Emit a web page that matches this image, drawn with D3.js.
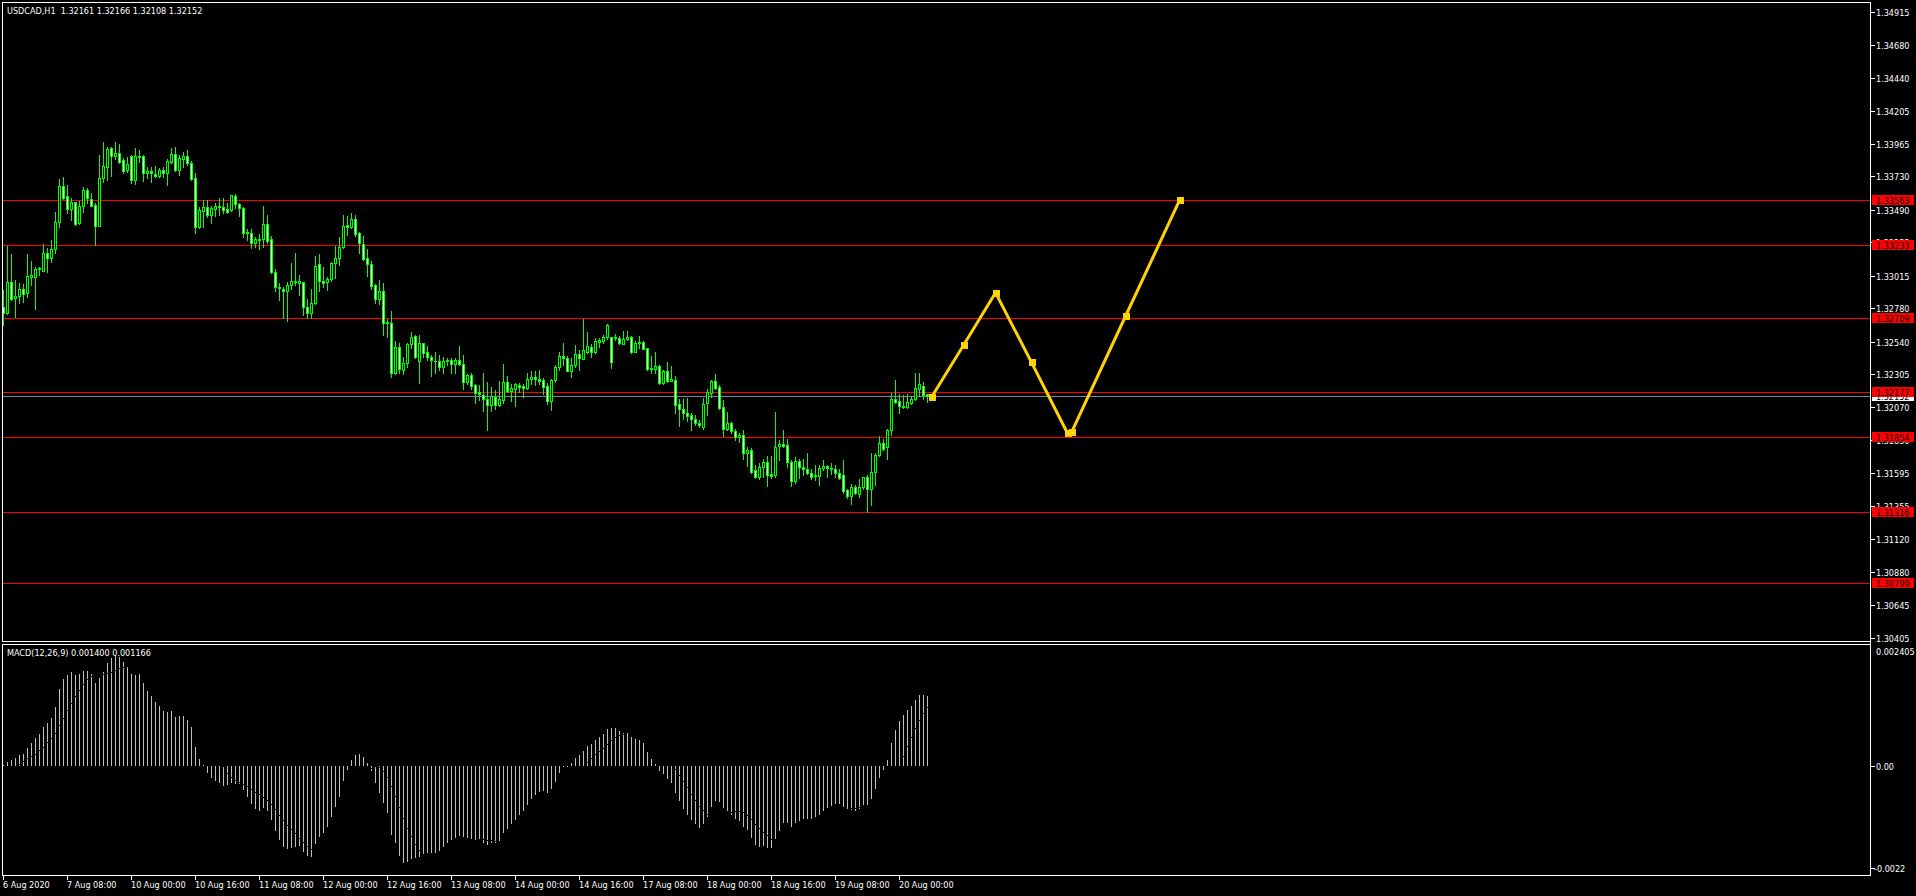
<!DOCTYPE html>
<html><head><meta charset="utf-8">
<script src="https://cdn.jsdelivr.net/npm/d3@7"></script>
<style>
html,body{margin:0;padding:0;background:#000;overflow:hidden}
svg{display:block}
text{font-family:"DejaVu Sans Condensed","DejaVu Sans",sans-serif;font-stretch:condensed;font-size:9px;fill:#fff;white-space:pre}
</style></head><body>
<svg id="c" width="1916" height="896"></svg>
<script>
// ---------- DATA ----------
const symbolLabel = "USDCAD,H1  1.32161 1.32166 1.32108 1.32152";
const macdLabel = "MACD(12,26,9) 0.001400 0.001166";
const timeLabels = ["6 Aug 2020","7 Aug 08:00","10 Aug 00:00","10 Aug 16:00","11 Aug 08:00","12 Aug 00:00","12 Aug 16:00","13 Aug 08:00","14 Aug 00:00","14 Aug 16:00","17 Aug 08:00","18 Aug 00:00","18 Aug 16:00","19 Aug 08:00","20 Aug 00:00"];
const timeLabelBars = [0,16,32,48,64,80,96,112,128,144,160,176,192,208,224];
const priceTicks = ["1.34915","1.34680","1.34440","1.34205","1.33965","1.33730","1.33490","1.33255","1.33015","1.32780","1.32540","1.32305","1.32070","1.31830","1.31595","1.31355","1.31120","1.30880","1.30645","1.30405"];
const levelPrices = [1.33563,1.33233,1.32709,1.32177,1.31854,1.31316,1.30799];
const levelLabels = ["1.33563","1.33233","1.32709","1.32177","1.31854","1.31316","1.30799"];
const bidPrice = 1.32152;
const bidLabel = "1.32152";
const macdTickLabels = ["0.002405","0.00","-0.0022"];

const opens = [1.32792,1.32749,1.32972,1.32852,1.32871,1.32917,1.32888,1.33008,1.33008,1.33061,
1.33052,1.33176,1.33145,1.33205,1.33400,1.33662,1.33590,1.33498,1.33544,1.33393,
1.33517,1.33633,1.33566,1.33525,1.33376,1.33717,1.33796,1.33933,1.33880,1.33897,
1.33849,1.33777,1.33878,1.33705,1.33878,1.33878,1.33753,1.33770,1.33748,1.33736,
1.33777,1.33753,1.33837,1.33890,1.33777,1.33858,1.33878,1.33825,1.33717,1.33369,
1.33484,1.33508,1.33453,1.33493,1.33517,1.33513,1.33493,1.33489,1.33590,1.33529,
1.33501,1.33330,1.33321,1.33249,1.33280,1.33277,1.33385,1.33277,1.33044,1.32936,
1.32919,1.32907,1.32946,1.32977,1.32965,1.32967,1.32787,1.32744,1.32816,1.33100,
1.32977,1.32972,1.32989,1.33109,1.33140,1.33220,1.33378,1.33364,1.33421,1.33321,
1.33241,1.33140,1.33097,1.32948,1.32845,1.32907,1.32682,1.32672,1.32317,1.32499,
1.32336,1.32384,1.32523,1.32581,1.32403,1.32528,1.32463,1.32427,1.32403,1.32403,
1.32360,1.32398,1.32408,1.32377,1.32408,1.32379,1.32252,1.32300,1.32225,1.32175,
1.32156,1.32127,1.32086,1.32144,1.32081,1.32120,1.32249,1.32187,1.32201,1.32228,
1.32221,1.32204,1.32269,1.32283,1.32269,1.32264,1.32221,1.32115,1.32261,1.32355,
1.32434,1.32420,1.32331,1.32370,1.32451,1.32418,1.32468,1.32504,1.32468,1.32540,
1.32547,1.32571,1.32571,1.32576,1.32564,1.32523,1.32557,1.32574,1.32468,1.32528,
1.32538,1.32492,1.32341,1.32346,1.32365,1.32240,1.32326,1.32259,1.32264,1.32088,
1.32057,1.32024,1.32012,1.31985,1.31956,1.31928,1.32100,1.32173,1.32254,1.32211,
1.32067,1.31913,1.31954,1.31899,1.31856,1.31865,1.31740,1.31760,1.31613,1.31563,
1.31635,1.31671,1.31584,1.31577,1.31791,1.31800,1.31798,1.31671,1.31538,1.31680,
1.31639,1.31620,1.31594,1.31572,1.31575,1.31627,1.31644,1.31632,1.31620,1.31591,
1.31582,1.31471,1.31430,1.31495,1.31443,1.31491,1.31563,1.31476,1.31603,1.31723,
1.31807,1.31779,1.31904,1.32124,1.32110,1.32079,1.32069,1.32100,1.32124,1.32199,
1.32223,1.32161];

const highs = [1.32912,1.33232,1.33172,1.32984,1.32960,1.32955,1.33172,1.33121,1.33080,1.33080,
1.33244,1.33212,1.33273,1.33472,1.33712,1.33726,1.33669,1.33573,1.33549,1.33554,
1.33654,1.33645,1.33609,1.33542,1.33885,1.33976,1.33945,1.33940,1.33976,1.33964,
1.33861,1.33868,1.33885,1.33933,1.33921,1.33885,1.33801,1.33801,1.33806,1.33789,
1.33796,1.33854,1.33933,1.33940,1.33885,1.33909,1.33921,1.33844,1.33753,1.33513,
1.33561,1.33561,1.33517,1.33542,1.33573,1.33573,1.33537,1.33597,1.33602,1.33537,
1.33513,1.33349,1.33352,1.33292,1.33316,1.33517,1.33453,1.33301,1.33061,1.32960,
1.32936,1.32967,1.33104,1.33176,1.33020,1.32972,1.32847,1.32919,1.33157,1.33169,
1.33080,1.33008,1.33116,1.33229,1.33297,1.33453,1.33445,1.33465,1.33453,1.33330,
1.33301,1.33208,1.33121,1.32955,1.32984,1.32960,1.32701,1.32761,1.32545,1.32528,
1.32432,1.32528,1.32607,1.32590,1.32588,1.32533,1.32509,1.32444,1.32463,1.32442,
1.32432,1.32420,1.32422,1.32422,1.32509,1.32444,1.32307,1.32312,1.32237,1.32225,
1.32314,1.32252,1.32216,1.32189,1.32257,1.32379,1.32293,1.32233,1.32245,1.32245,
1.32233,1.32312,1.32326,1.32326,1.32336,1.32281,1.32245,1.32273,1.32372,1.32468,
1.32528,1.32437,1.32420,1.32516,1.32480,1.32703,1.32610,1.32523,1.32564,1.32564,
1.32588,1.32667,1.32576,1.32595,1.32581,1.32614,1.32614,1.32581,1.32547,1.32581,
1.32545,1.32497,1.32437,1.32466,1.32370,1.32336,1.32394,1.32362,1.32293,1.32124,
1.32127,1.32134,1.32028,1.32009,1.31976,1.32134,1.32197,1.32264,1.32307,1.32225,
1.32120,1.32033,1.31964,1.31908,1.31880,1.31904,1.31784,1.31772,1.31649,1.31668,
1.31697,1.31716,1.31716,1.32033,1.31832,1.31904,1.31839,1.31687,1.31711,1.31697,
1.31692,1.31740,1.31620,1.31651,1.31651,1.31687,1.31651,1.31668,1.31651,1.31620,
1.31687,1.31476,1.31515,1.31507,1.31548,1.31567,1.31579,1.31735,1.31740,1.31860,
1.31841,1.31908,1.32168,1.32264,1.32163,1.32153,1.32165,1.32148,1.32317,1.32317,
1.32252,1.32166];

const lows = [1.32660,1.32737,1.32840,1.32720,1.32816,1.32828,1.32864,1.32948,1.32775,1.33020,
1.33052,1.33044,1.33116,1.33181,1.33369,1.33566,1.33469,1.33417,1.33381,1.33388,
1.33477,1.33537,1.33517,1.33236,1.33376,1.33693,1.33705,1.33736,1.33854,1.33825,
1.33758,1.33765,1.33681,1.33676,1.33837,1.33700,1.33717,1.33693,1.33729,1.33729,
1.33729,1.33669,1.33825,1.33772,1.33741,1.33801,1.33813,1.33705,1.33325,1.33357,
1.33364,1.33441,1.33397,1.33445,1.33453,1.33465,1.33469,1.33484,1.33505,1.33445,
1.33292,1.33273,1.33217,1.33220,1.33210,1.33220,1.33253,1.33037,1.32907,1.32840,
1.32708,1.32691,1.32919,1.32948,1.32876,1.32732,1.32708,1.32708,1.32811,1.32907,
1.32936,1.32912,1.32979,1.32996,1.33092,1.33212,1.33309,1.33357,1.33301,1.33181,
1.33128,1.33013,1.32922,1.32816,1.32811,1.32588,1.32576,1.32283,1.32307,1.32312,
1.32307,1.32360,1.32492,1.32420,1.32245,1.32432,1.32408,1.32295,1.32312,1.32336,
1.32317,1.32372,1.32317,1.32317,1.32372,1.32199,1.32235,1.32201,1.32096,1.32120,
1.32040,1.31904,1.32043,1.32052,1.32076,1.32100,1.32177,1.32112,1.32079,1.32180,
1.32144,1.32197,1.32233,1.32225,1.32235,1.32163,1.32088,1.32048,1.32252,1.32336,
1.32372,1.32326,1.32288,1.32360,1.32336,1.32413,1.32456,1.32432,1.32461,1.32504,
1.32528,1.32557,1.32350,1.32552,1.32523,1.32521,1.32552,1.32461,1.32466,1.32492,
1.32485,1.32336,1.32317,1.32317,1.32235,1.32235,1.32249,1.32254,1.32024,1.31932,
1.31980,1.31966,1.31904,1.31940,1.31928,1.31908,1.32014,1.32144,1.32201,1.32052,
1.31860,1.31904,1.31884,1.31832,1.31817,1.31697,1.31644,1.31591,1.31555,1.31553,
1.31567,1.31503,1.31555,1.31563,1.31687,1.31784,1.31639,1.31503,1.31519,1.31560,
1.31579,1.31587,1.31548,1.31543,1.31507,1.31615,1.31563,1.31587,1.31567,1.31548,
1.31447,1.31416,1.31368,1.31440,1.31423,1.31481,1.31316,1.31361,1.31507,1.31716,
1.31760,1.31692,1.31868,1.32100,1.32028,1.32060,1.32062,1.32091,1.32120,1.32148,
1.32127,1.32108];

const closes = [1.32749,1.32972,1.32847,1.32871,1.32917,1.32881,1.33013,1.33020,1.33061,1.33073,
1.33176,1.33140,1.33208,1.33400,1.33662,1.33578,1.33498,1.33544,1.33388,1.33517,
1.33633,1.33573,1.33520,1.33376,1.33717,1.33806,1.33928,1.33880,1.33897,1.33837,
1.33772,1.33820,1.33705,1.33880,1.33868,1.33753,1.33770,1.33753,1.33736,1.33777,
1.33753,1.33842,1.33890,1.33777,1.33861,1.33878,1.33825,1.33710,1.33369,1.33489,
1.33508,1.33453,1.33501,1.33517,1.33508,1.33489,1.33477,1.33594,1.33529,1.33501,
1.33325,1.33321,1.33249,1.33277,1.33275,1.33385,1.33268,1.33044,1.32931,1.32924,
1.32907,1.32948,1.32977,1.32970,1.32977,1.32787,1.32744,1.32816,1.33085,1.32979,
1.32965,1.32989,1.33104,1.33140,1.33220,1.33376,1.33364,1.33421,1.33316,1.33253,
1.33136,1.33097,1.32944,1.32845,1.32907,1.32677,1.32672,1.32317,1.32499,1.32341,
1.32384,1.32523,1.32571,1.32427,1.32528,1.32456,1.32427,1.32408,1.32398,1.32360,
1.32398,1.32408,1.32377,1.32408,1.32377,1.32252,1.32300,1.32221,1.32173,1.32163,
1.32124,1.32086,1.32146,1.32081,1.32127,1.32249,1.32185,1.32204,1.32233,1.32216,
1.32204,1.32269,1.32283,1.32269,1.32259,1.32216,1.32115,1.32261,1.32355,1.32434,
1.32420,1.32331,1.32370,1.32451,1.32420,1.32480,1.32509,1.32468,1.32545,1.32552,
1.32571,1.32658,1.32396,1.32564,1.32528,1.32557,1.32574,1.32468,1.32528,1.32540,
1.32490,1.32341,1.32348,1.32365,1.32240,1.32326,1.32259,1.32269,1.32086,1.32057,
1.32024,1.32007,1.31985,1.31952,1.31937,1.32091,1.32180,1.32254,1.32206,1.32062,
1.31913,1.31954,1.31894,1.31851,1.31865,1.31740,1.31760,1.31603,1.31563,1.31635,
1.31675,1.31582,1.31572,1.31784,1.31803,1.31791,1.31671,1.31538,1.31678,1.31639,
1.31620,1.31591,1.31567,1.31582,1.31627,1.31647,1.31627,1.31620,1.31591,1.31560,
1.31467,1.31430,1.31495,1.31447,1.31491,1.31563,1.31476,1.31603,1.31723,1.31807,
1.31769,1.31904,1.32124,1.32108,1.32079,1.32067,1.32105,1.32124,1.32204,1.32233,
1.32156,1.32152];

const macdMain = [20e-6,73e-6,119e-6,159e-6,219e-6,239e-6,351e-6,451e-6,550e-6,629e-6,
769e-6,861e-6,947e-6,1179e-6,1524e-6,1729e-6,1809e-6,1875e-6,1809e-6,1829e-6,
1895e-6,1888e-6,1822e-6,1656e-6,1756e-6,1862e-6,2041e-6,2140e-6,2186e-6,2160e-6,
2060e-6,1974e-6,1829e-6,1815e-6,1822e-6,1643e-6,1497e-6,1391e-6,1279e-6,1199e-6,
1100e-6,1080e-6,1100e-6,981e-6,994e-6,994e-6,914e-6,769e-6,371e-6,146e-6,
26e-6,-146e-6,-232e-6,-292e-6,-331e-6,-391e-6,-378e-6,-345e-6,-358e-6,-364e-6,
-477e-6,-623e-6,-762e-6,-861e-6,-888e-6,-841e-6,-888e-6,-1073e-6,-1285e-6,-1471e-6,
-1603e-6,-1643e-6,-1636e-6,-1617e-6,-1583e-6,-1703e-6,-1789e-6,-1802e-6,-1550e-6,-1405e-6,
-1325e-6,-1219e-6,-1020e-6,-822e-6,-610e-6,-305e-6,-80e-6,119e-6,219e-6,239e-6,
172e-6,53e-6,-93e-6,-331e-6,-530e-6,-742e-6,-941e-6,-1371e-6,-1537e-6,-1789e-6,
-1935e-6,-1901e-6,-1855e-6,-1835e-6,-1802e-6,-1769e-6,-1736e-6,-1723e-6,-1723e-6,-1683e-6,
-1603e-6,-1537e-6,-1471e-6,-1424e-6,-1391e-6,-1405e-6,-1438e-6,-1458e-6,-1471e-6,-1471e-6,
-1524e-6,-1564e-6,-1537e-6,-1524e-6,-1484e-6,-1325e-6,-1246e-6,-1146e-6,-1073e-6,-974e-6,
-888e-6,-769e-6,-663e-6,-570e-6,-510e-6,-490e-6,-530e-6,-451e-6,-311e-6,-133e-6,
-13e-6,5e-6,60e-6,159e-6,219e-6,298e-6,398e-6,437e-6,517e-6,583e-6,
636e-6,735e-6,755e-6,755e-6,702e-6,663e-6,676e-6,576e-6,537e-6,517e-6,
451e-6,272e-6,139e-6,40e-6,-93e-6,-159e-6,-252e-6,-331e-6,-530e-6,-689e-6,
-848e-6,-967e-6,-1073e-6,-1146e-6,-1226e-6,-1146e-6,-1007e-6,-808e-6,-689e-6,-716e-6,
-828e-6,-888e-6,-967e-6,-1047e-6,-1087e-6,-1206e-6,-1272e-6,-1424e-6,-1564e-6,-1603e-6,
-1583e-6,-1630e-6,-1623e-6,-1451e-6,-1285e-6,-1140e-6,-1126e-6,-1206e-6,-1126e-6,-1087e-6,
-1053e-6,-1047e-6,-1047e-6,-1020e-6,-967e-6,-888e-6,-828e-6,-788e-6,-749e-6,-749e-6,
-808e-6,-848e-6,-875e-6,-888e-6,-861e-6,-769e-6,-769e-6,-649e-6,-451e-6,-232e-6,
-80e-6,119e-6,457e-6,716e-6,894e-6,1014e-6,1113e-6,1193e-6,1312e-6,1411e-6,
1411e-6,1400e-6];

const macdSignal = [-120e-6,-90e-6,-50e-6,-10e-6,40e-6,90e-6,150e-6,200e-6,242e-6,310e-6,
387e-6,470e-6,557e-6,664e-6,807e-6,960e-6,1111e-6,1258e-6,1389e-6,1507e-6,
1622e-6,1726e-6,1798e-6,1812e-6,1815e-6,1821e-6,1840e-6,1877e-6,1916e-6,1946e-6,
1965e-6,1982e-6,2001e-6,2007e-6,2003e-6,1959e-6,1887e-6,1799e-6,1701e-6,1605e-6,
1508e-6,1425e-6,1346e-6,1252e-6,1180e-6,1124e-6,1071e-6,1015e-6,923e-6,817e-6,
699e-6,561e-6,426e-6,283e-6,136e-6,-9e-6,-136e-6,-216e-6,-272e-6,-315e-6,
-352e-6,-395e-6,-448e-6,-507e-6,-562e-6,-613e-6,-674e-6,-753e-6,-855e-6,-966e-6,
-1075e-6,-1173e-6,-1259e-6,-1340e-6,-1422e-6,-1513e-6,-1592e-6,-1650e-6,-1658e-6,-1636e-6,
-1601e-6,-1555e-6,-1488e-6,-1404e-6,-1282e-6,-1118e-6,-926e-6,-741e-6,-560e-6,-387e-6,
-232e-6,-113e-6,-32e-6,-1e-6,-26e-6,-99e-6,-217e-6,-394e-6,-591e-6,-809e-6,
-1030e-6,-1231e-6,-1400e-6,-1545e-6,-1663e-6,-1755e-6,-1795e-6,-1816e-6,-1809e-6,-1781e-6,
-1748e-6,-1712e-6,-1672e-6,-1630e-6,-1588e-6,-1551e-6,-1519e-6,-1490e-6,-1466e-6,-1452e-6,
-1450e-6,-1461e-6,-1473e-6,-1488e-6,-1497e-6,-1484e-6,-1461e-6,-1425e-6,-1380e-6,-1319e-6,
-1244e-6,-1159e-6,-1063e-6,-962e-6,-871e-6,-787e-6,-719e-6,-649e-6,-576e-6,-492e-6,
-408e-6,-334e-6,-264e-6,-189e-6,-111e-6,-19e-6,76e-6,159e-6,231e-6,297e-6,
367e-6,442e-6,509e-6,568e-6,613e-6,643e-6,669e-6,676e-6,671e-6,657e-6,
626e-6,572e-6,504e-6,430e-6,346e-6,253e-6,161e-6,65e-6,-51e-6,-178e-6,
-303e-6,-425e-6,-549e-6,-666e-6,-785e-6,-884e-6,-959e-6,-990e-6,-990e-6,-975e-6,
-960e-6,-939e-6,-919e-6,-900e-6,-893e-6,-915e-6,-967e-6,-1048e-6,-1143e-6,-1229e-6,
-1306e-6,-1380e-6,-1444e-6,-1484e-6,-1493e-6,-1478e-6,-1445e-6,-1405e-6,-1352e-6,-1297e-6,
-1233e-6,-1169e-6,-1124e-6,-1095e-6,-1075e-6,-1049e-6,-1007e-6,-969e-6,-932e-6,-898e-6,
-872e-6,-849e-6,-833e-6,-825e-6,-822e-6,-815e-6,-813e-6,-802e-6,-769e-6,-705e-6,
-619e-6,-509e-6,-359e-6,-184e-6,1e-6,199e-6,394e-6,577e-6,749e-6,914e-6,
1058e-6,1166e-6];

const forecastBars = [232,240,248,257,266,267,280.5,294];
const forecastPrices = [1.32140,1.32514,1.32893,1.32391,1.31880,1.31887,1.32723,1.33558];

// ---------- LAYOUT ----------
const paneL = 2, paneR = 1870, mainT = 2, mainB = 641, macdT = 644, macdB = 875;
const LIME = "#00ff00", RED = "#ff0000", GOLD = "#ffd200";

const svg = d3.select("#c").attr("shape-rendering","crispEdges");
const x = d3.scaleLinear().domain([0, 466]).range([3.5, 3.5 + 466*4]);
const yP = d3.scaleLinear().domain([1.30405, 1.34915]).range([638, 12]);
const yM = d3.scaleLinear().domain([-0.002166, 0.002405]).range([macdB, 645]);
const r = v => Math.round(v);

const defs = svg.append("defs");
defs.append("clipPath").attr("id","clipMain").append("rect")
  .attr("x",paneL+1).attr("y",mainT+1).attr("width",paneR-paneL-1).attr("height",mainB-mainT-1);
defs.append("clipPath").attr("id","clipMacd").append("rect")
  .attr("x",paneL+1).attr("y",macdT+1).attr("width",paneR-paneL-1).attr("height",macdB-macdT-1);

svg.append("rect").attr("width",1916).attr("height",896).attr("fill","#000");

// ---------- MAIN PANE ----------
const gMain = svg.append("g").attr("clip-path","url(#clipMain)");

// horizontal levels
gMain.selectAll("rect.level").data(levelPrices).join("rect").attr("class","level")
  .attr("x",paneL).attr("width",paneR-paneL).attr("y",d=>r(yP(d))).attr("height",1).attr("fill",RED);
// bid line
gMain.append("rect").attr("x",paneL).attr("width",paneR-paneL).attr("y",r(yP(bidPrice))).attr("height",1).attr("fill","#778899");

const idx = d3.range(closes.length);
// wicks
gMain.selectAll("rect.wick").data(idx).join("rect").attr("class","wick")
  .attr("x",i=>x(i)-0.5).attr("width",1)
  .attr("y",i=>r(yP(highs[i])))
  .attr("height",i=>Math.max(1, r(yP(lows[i]))-r(yP(highs[i]))+1))
  .attr("fill",LIME);
// bodies
const bodyTop = i => r(yP(Math.max(opens[i],closes[i])));
const bodyBot = i => r(yP(Math.min(opens[i],closes[i])));
gMain.selectAll("rect.body").data(idx).join("rect").attr("class","body")
  .attr("x",i=>x(i)-1.5).attr("width",3)
  .attr("y",bodyTop)
  .attr("height",i=>Math.max(1, bodyBot(i)-bodyTop(i)+1))
  .attr("fill",LIME);
gMain.selectAll("rect.fill").data(idx.filter(i=>bodyBot(i)-bodyTop(i)>=2)).join("rect").attr("class","fill")
  .attr("x",i=>x(i)-0.5).attr("width",1)
  .attr("y",i=>bodyTop(i)+1)
  .attr("height",i=>bodyBot(i)-bodyTop(i)-1)
  .attr("fill",i=>closes[i]>=opens[i] ? "#000" : "#fff");

// forecast polyline
const fpts = forecastBars.map((b,k)=>[b, forecastPrices[k]]);
gMain.append("path").datum(fpts)
  .attr("d", d3.line().x(d=>x(d[0])).y(d=>yP(d[1])))
  .attr("fill","none").attr("stroke",GOLD).attr("stroke-width",3)
  .attr("stroke-linejoin","round").attr("shape-rendering","auto");
gMain.selectAll("rect.fm").data(fpts).join("rect").attr("class","fm")
  .attr("x",d=>r(x(d[0]))-3).attr("y",d=>r(yP(d[1]))-3).attr("width",7).attr("height",7).attr("fill",GOLD);
gMain.selectAll("rect.fc").data(fpts).join("rect").attr("class","fc")
  .attr("x",d=>r(x(d[0]))).attr("y",d=>r(yP(d[1]))).attr("width",1).attr("height",1).attr("fill","#fff8c0");

// header
svg.append("text").attr("x",7).attr("y",14).text(symbolLabel);

// ---------- MACD PANE ----------
const gM = svg.append("g").attr("clip-path","url(#clipMacd)");
const y0 = r(yM(0));
gM.selectAll("rect.mh").data(idx).join("rect").attr("class","mh")
  .attr("x",i=>x(i)-0.5).attr("width",1)
  .attr("y",i=>Math.min(r(yM(macdMain[i])), y0))
  .attr("height",i=>Math.max(1, Math.abs(r(yM(macdMain[i]))-y0)))
  .attr("fill","#c0c0c0");
gM.selectAll("rect.ms").data(idx).join("rect").attr("class","ms")
  .attr("x",i=>x(i)-0.5).attr("width",1)
  .attr("y",i=>r(yM(macdSignal[i]))).attr("height",1)
  .attr("fill","#000");
svg.append("text").attr("x",7).attr("y",656).text(macdLabel);

// ---------- FRAMES ----------
const frame = svg.append("g").attr("fill","#fff");
frame.append("rect").attr("x",paneL).attr("y",mainT).attr("width",paneR-paneL+1).attr("height",1);
frame.append("rect").attr("x",paneL).attr("y",mainB).attr("width",paneR-paneL+1).attr("height",1);
frame.append("rect").attr("x",paneL).attr("y",macdT).attr("width",paneR-paneL+1).attr("height",1);
frame.append("rect").attr("x",paneL).attr("y",macdB).attr("width",paneR-paneL+1).attr("height",1);
frame.append("rect").attr("x",paneL).attr("y",mainT).attr("width",1).attr("height",mainB-mainT+1);
frame.append("rect").attr("x",paneL).attr("y",macdT).attr("width",1).attr("height",macdB-macdT+1);
frame.append("rect").attr("x",paneR).attr("y",mainT).attr("width",1).attr("height",macdB-mainT+1);

// ---------- PRICE AXIS ----------
const gA = svg.append("g");
priceTicks.forEach(t=>{
  const yy = r(yP(+t));
  gA.append("rect").attr("x",paneR+1).attr("y",yy).attr("width",4).attr("height",1).attr("fill","#fff");
  gA.append("text").attr("x",1876).attr("y",yy+4).text(t);
});
// bid label
{
  const yy = r(yP(bidPrice));
  gA.append("rect").attr("x",1872).attr("y",yy-5).attr("width",42).attr("height",10).attr("fill","#fff");
  gA.append("text").attr("x",1876).attr("y",yy+4).style("fill","#000").text(bidLabel);
}
levelPrices.forEach((p,k)=>{
  const yy = r(yP(p));
  gA.append("rect").attr("x",1872).attr("y",yy-5).attr("width",42).attr("height",10).attr("fill",RED);
  gA.append("text").attr("x",1876).attr("y",yy+4).style("fill","#000").text(levelLabels[k]);
});

// MACD axis
gA.append("text").attr("x",1876).attr("y",r(yM(0.002405))+10).text(macdTickLabels[0]);
gA.append("rect").attr("x",paneR+1).attr("y",y0).attr("width",4).attr("height",1).attr("fill","#fff");
gA.append("text").attr("x",1876).attr("y",y0+4).text(macdTickLabels[1]);
gA.append("rect").attr("x",paneR+1).attr("y",macdB-7).attr("width",4).attr("height",1).attr("fill","#fff");
gA.append("text").attr("x",1874).attr("y",macdB-3).text(macdTickLabels[2]);

// ---------- TIME AXIS ----------
timeLabels.forEach((t,k)=>{
  const xx = x(timeLabelBars[k]) - 0.5;
  gA.append("rect").attr("x",xx).attr("y",macdB+1).attr("width",1).attr("height",4).attr("fill","#fff");
  gA.append("text").attr("x",xx).attr("y",888).text(t);
});
</script>
</body></html>
